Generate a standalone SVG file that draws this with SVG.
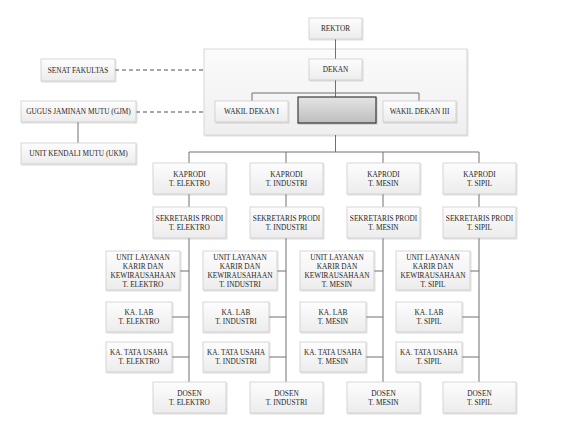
<svg xmlns="http://www.w3.org/2000/svg" width="566" height="428" viewBox="0 0 566 428">
<defs>
<linearGradient id="g" x1="0" y1="0" x2="0" y2="1"><stop offset="0" stop-color="#fdfdfd"/><stop offset="1" stop-color="#ececec"/></linearGradient>
<linearGradient id="gc" x1="0" y1="0" x2="0" y2="1"><stop offset="0" stop-color="#fbfbfb"/><stop offset="1" stop-color="#efefef"/></linearGradient>
<linearGradient id="gd" x1="0" y1="0" x2="0" y2="1"><stop offset="0" stop-color="#e4e4e4"/><stop offset="1" stop-color="#bdbdbd"/></linearGradient>
<filter id="sh" x="-10%" y="-10%" width="125%" height="135%"><feDropShadow dx="0.8" dy="1" stdDeviation="0.7" flood-color="#000" flood-opacity="0.18"/></filter>
</defs>
<style>
.box{fill:url(#g);stroke:#cdcdcd;stroke-width:0.8;filter:url(#sh)}
.t{font-family:"Liberation Serif","Times New Roman",serif;font-size:7.3px;fill:#262626;text-anchor:middle}
.ln{stroke:#707070;stroke-width:1;fill:none}
.ds{stroke:#8a8a8a;stroke-width:1.3;stroke-dasharray:4 3;fill:none}
</style>
<rect id="container" x="204" y="49" width="263" height="86" fill="url(#gc)" stroke="#cfcfcf" stroke-width="0.8" filter="url(#sh)"/>
<g id="connectors">
<line class="ln" x1="335.5" y1="39" x2="335.5" y2="59"/>
<line class="ln" x1="335.5" y1="80" x2="335.5" y2="97"/>
<polyline class="ln" points="252,101 252,93 419,93 419,101"/>
<line class="ln" x1="335.5" y1="135" x2="335.5" y2="152"/>
<line class="ln" x1="189" y1="152" x2="479" y2="152"/>
<line class="ln" x1="78" y1="122" x2="78" y2="143"/>
<line class="ds" x1="115" y1="70" x2="204" y2="70"/>
<line class="ds" x1="136" y1="112" x2="204" y2="112"/>
<g id="col-lines">
<path class="ln" d="M189 152V163M189 194V207M189 238V382M180 271H189M172 317H189M172 357H189"/>
<path class="ln" d="M286 152V163M286 194V207M286 238V382M277 271H286M269 317H286M269 357H286"/>
<path class="ln" d="M383 152V163M383 194V207M383 238V382M374 271H383M366 317H383M366 357H383"/>
<path class="ln" d="M479 152V163M479 194V207M479 238V382M470 271H479M462 317H479M462 357H479"/>
</g>
</g>
<g id="rektor"><rect class="box" x="309" y="18" width="53" height="21"/><text class="t" x="335.5" y="31">REKTOR</text></g>
<g id="dekan"><rect class="box" x="309" y="59" width="53" height="21"/><text class="t" x="335.5" y="72">DEKAN</text></g>
<g id="wd1"><rect class="box" x="215" y="101" width="73" height="21"/><text class="t" x="251.5" y="114">WAKIL DEKAN I</text></g>
<g id="wd2"><rect x="298" y="97" width="78" height="26" fill="url(#gd)" stroke="#3a3a3a" stroke-width="1.2" filter="url(#sh)"/></g>
<g id="wd3"><rect class="box" x="383" y="101" width="73" height="21"/><text class="t" x="419.5" y="114">WAKIL DEKAN III</text></g>
<g id="senat"><rect class="box" x="41" y="59" width="74" height="22"/><text class="t" x="78" y="72.5">SENAT FAKULTAS</text></g>
<g id="gjm"><rect class="box" x="21" y="101" width="115" height="21"/><text class="t" x="78.5" y="114">GUGUS JAMINAN MUTU (GJM)</text></g>
<g id="ukm"><rect class="box" x="21" y="143" width="115" height="21"/><text class="t" x="78.5" y="156">UNIT KENDALI MUTU (UKM)</text></g>

<g id="kaprodi-elektro"><rect class="box" x="153" y="163" width="73" height="31"/><text class="t" x="189.5" y="176.5">KAPRODI</text><text class="t" x="189.5" y="185.5">T. ELEKTRO</text></g>
<g id="kaprodi-industri"><rect class="box" x="250" y="163" width="73" height="31"/><text class="t" x="286.5" y="176.5">KAPRODI</text><text class="t" x="286.5" y="185.5">T. INDUSTRI</text></g>
<g id="kaprodi-mesin"><rect class="box" x="347" y="163" width="73" height="31"/><text class="t" x="383.5" y="176.5">KAPRODI</text><text class="t" x="383.5" y="185.5">T. MESIN</text></g>
<g id="kaprodi-sipil"><rect class="box" x="443" y="163" width="73" height="31"/><text class="t" x="479.5" y="176.5">KAPRODI</text><text class="t" x="479.5" y="185.5">T. SIPIL</text></g>

<g id="sekprodi-elektro"><rect class="box" x="153" y="207" width="73" height="31"/><text class="t" x="189.5" y="220.5">SEKRETARIS PRODI</text><text class="t" x="189.5" y="229.5">T. ELEKTRO</text></g>
<g id="sekprodi-industri"><rect class="box" x="250" y="207" width="73" height="31"/><text class="t" x="286.5" y="220.5">SEKRETARIS PRODI</text><text class="t" x="286.5" y="229.5">T. INDUSTRI</text></g>
<g id="sekprodi-mesin"><rect class="box" x="347" y="207" width="73" height="31"/><text class="t" x="383.5" y="220.5">SEKRETARIS PRODI</text><text class="t" x="383.5" y="229.5">T. MESIN</text></g>
<g id="sekprodi-sipil"><rect class="box" x="443" y="207" width="73" height="31"/><text class="t" x="479.5" y="220.5">SEKRETARIS PRODI</text><text class="t" x="479.5" y="229.5">T. SIPIL</text></g>

<g id="unit-elektro"><rect class="box" x="106" y="251" width="74" height="39"/><text class="t" x="143" y="259.5">UNIT LAYANAN</text><text class="t" x="143" y="268.5">KARIR DAN</text><text class="t" x="143" y="277.5">KEWIRAUSAHAAN</text><text class="t" x="143" y="286.5">T. ELEKTRO</text></g>
<g id="unit-industri"><rect class="box" x="203" y="251" width="74" height="39"/><text class="t" x="240" y="259.5">UNIT LAYANAN</text><text class="t" x="240" y="268.5">KARIR DAN</text><text class="t" x="240" y="277.5">KEWIRAUSAHAAN</text><text class="t" x="240" y="286.5">T. INDUSTRI</text></g>
<g id="unit-mesin"><rect class="box" x="300" y="251" width="74" height="39"/><text class="t" x="337" y="259.5">UNIT LAYANAN</text><text class="t" x="337" y="268.5">KARIR DAN</text><text class="t" x="337" y="277.5">KEWIRAUSAHAAN</text><text class="t" x="337" y="286.5">T. MESIN</text></g>
<g id="unit-sipil"><rect class="box" x="396" y="251" width="74" height="39"/><text class="t" x="433" y="259.5">UNIT LAYANAN</text><text class="t" x="433" y="268.5">KARIR DAN</text><text class="t" x="433" y="277.5">KEWIRAUSAHAAN</text><text class="t" x="433" y="286.5">T. SIPIL</text></g>

<g id="lab-elektro"><rect class="box" x="106" y="302" width="66" height="30"/><text class="t" x="139" y="315">KA. LAB</text><text class="t" x="139" y="324">T. ELEKTRO</text></g>
<g id="lab-industri"><rect class="box" x="203" y="302" width="66" height="30"/><text class="t" x="236" y="315">KA. LAB</text><text class="t" x="236" y="324">T. INDUSTRI</text></g>
<g id="lab-mesin"><rect class="box" x="300" y="302" width="66" height="30"/><text class="t" x="333" y="315">KA. LAB</text><text class="t" x="333" y="324">T. MESIN</text></g>
<g id="lab-sipil"><rect class="box" x="396" y="302" width="66" height="30"/><text class="t" x="429" y="315">KA. LAB</text><text class="t" x="429" y="324">T. SIPIL</text></g>

<g id="tu-elektro"><rect class="box" x="106" y="342" width="66" height="30"/><text class="t" x="139" y="355">KA. TATA USAHA</text><text class="t" x="139" y="364">T. ELEKTRO</text></g>
<g id="tu-industri"><rect class="box" x="203" y="342" width="66" height="30"/><text class="t" x="236" y="355">KA. TATA USAHA</text><text class="t" x="236" y="364">T. INDUSTRI</text></g>
<g id="tu-mesin"><rect class="box" x="300" y="342" width="66" height="30"/><text class="t" x="333" y="355">KA. TATA USAHA</text><text class="t" x="333" y="364">T. MESIN</text></g>
<g id="tu-sipil"><rect class="box" x="396" y="342" width="66" height="30"/><text class="t" x="429" y="355">KA. TATA USAHA</text><text class="t" x="429" y="364">T. SIPIL</text></g>

<g id="dosen-elektro"><rect class="box" x="153" y="382" width="73" height="31"/><text class="t" x="189.5" y="395.5">DOSEN</text><text class="t" x="189.5" y="404.5">T. ELEKTRO</text></g>
<g id="dosen-industri"><rect class="box" x="250" y="382" width="73" height="31"/><text class="t" x="286.5" y="395.5">DOSEN</text><text class="t" x="286.5" y="404.5">T. INDUSTRI</text></g>
<g id="dosen-mesin"><rect class="box" x="347" y="382" width="73" height="31"/><text class="t" x="383.5" y="395.5">DOSEN</text><text class="t" x="383.5" y="404.5">T. MESIN</text></g>
<g id="dosen-sipil"><rect class="box" x="443" y="382" width="73" height="31"/><text class="t" x="479.5" y="395.5">DOSEN</text><text class="t" x="479.5" y="404.5">T. SIPIL</text></g>
</svg>
